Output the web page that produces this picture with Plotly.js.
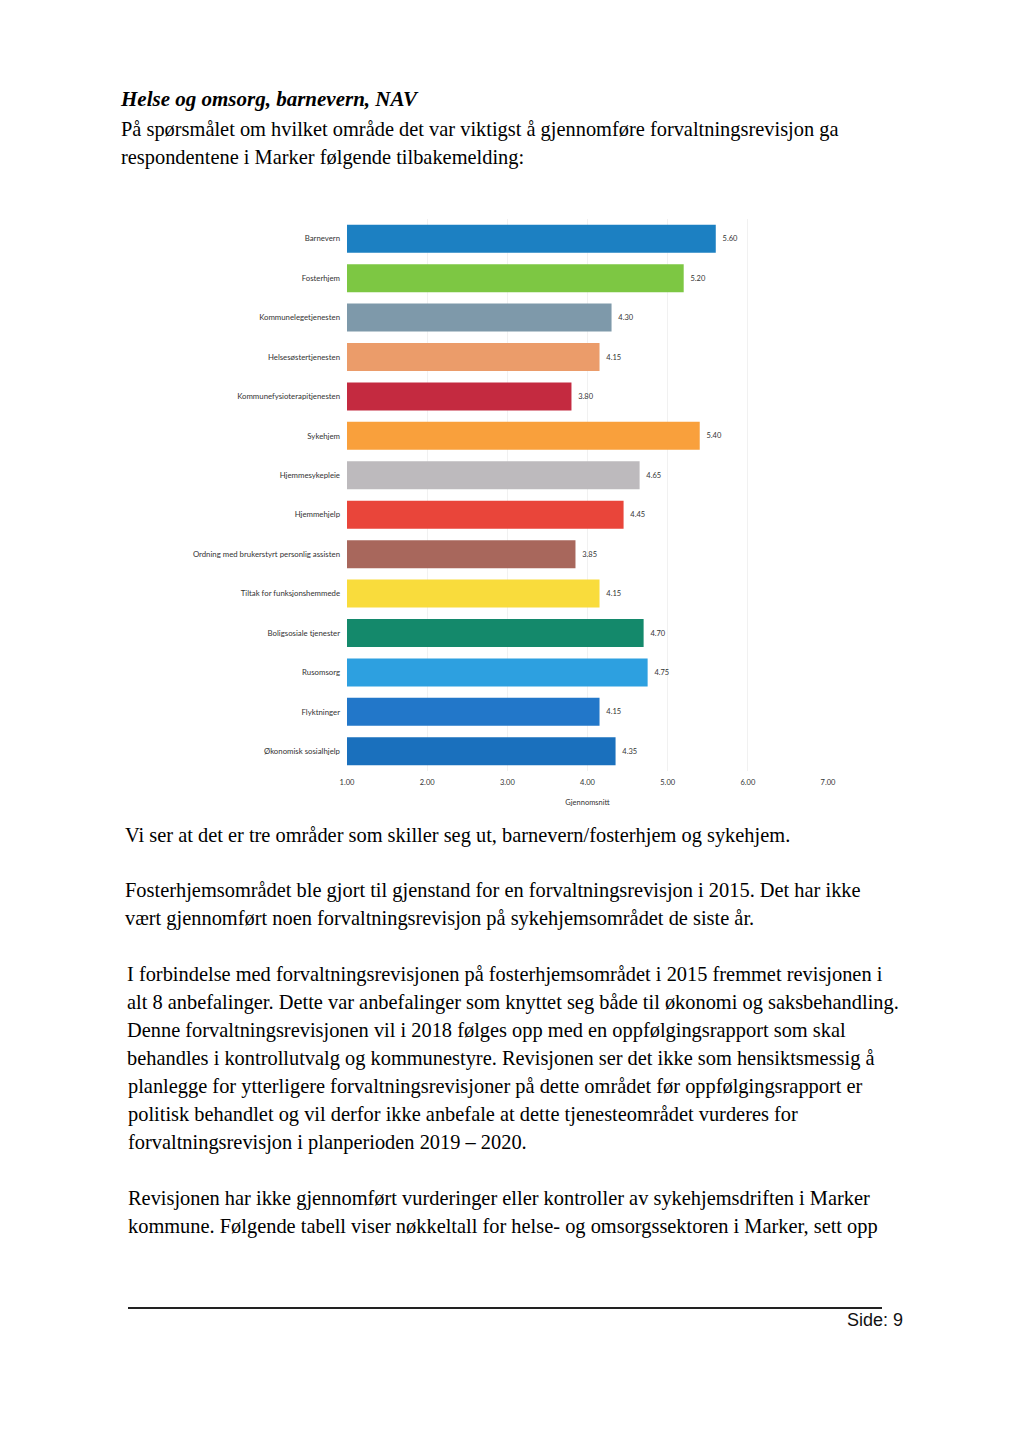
<!DOCTYPE html>
<html>
<head>
<meta charset="utf-8">
<script src="https://cdn.plot.ly/plotly-3.0.1.min.js"></script>
<style>
  html, body { margin: 0; padding: 0; background: #ffffff; }
  #page { position: relative; width: 1024px; height: 1448px; overflow: hidden; background: #fff; }
  #chart { position: absolute; left: 0; top: 0; width: 1024px; height: 1448px; }
  .ln { position: absolute; white-space: nowrap; font-family: "Liberation Serif", "Times New Roman", serif;
        font-size: 20.4px; line-height: 28px; color: #000; }
  .title { font-weight: bold; font-style: italic; font-size: 21px; }
  #rule { position: absolute; left: 128px; top: 1307px; width: 754px; height: 1.5px; background: #222; }
  #side { position: absolute; left: 830px; top: 1309px; width: 73px; text-align: right; white-space: nowrap;
          font-family: "Liberation Sans", Arial, sans-serif; font-size: 18px; line-height: 22px; color: #111; }
</style>
</head>
<body>
<div id="page">
  <div id="chart"></div>
  <div id="text"></div>
  <div id="rule"></div>
  <div id="side">Side: 9</div>
</div>
<script>
// ---- chart data ----
const categories = [
  "Barnevern",
  "Fosterhjem",
  "Kommunelegetjenesten",
  "Helsesøstertjenesten",
  "Kommunefysioterapitjenesten",
  "Sykehjem",
  "Hjemmesykepleie",
  "Hjemmehjelp",
  "Ordning med brukerstyrt personlig assisten",
  "Tiltak for funksjonshemmede",
  "Boligsosiale tjenester",
  "Rusomsorg",
  "Flyktninger",
  "Økonomisk sosialhjelp"
];
const averages = [5.60, 5.20, 4.30, 4.15, 3.80, 5.40, 4.65, 4.45, 3.85, 4.15, 4.70, 4.75, 4.15, 4.35];
const barColors = [
  "#1c80c2", "#7dc743", "#7e99aa", "#eb9c6a", "#c42a40", "#f9a03c", "#bdbabd",
  "#e9453a", "#a8675c", "#f9dc3c", "#14896b", "#2da0e0", "#2277c9", "#1a70bd"
];
const axisStart = 1;
const xTickVals = [1, 2, 3, 4, 5, 6, 7];
const xTickText = ["1.00", "2.00", "3.00", "4.00", "5.00", "6.00", "7.00"];
const xAxisTitle = "Gjennomsnitt";

// ---- page text ----
const textLines = [
  {t: "Helse og omsorg, barnevern, NAV", x: 121, y: 85, cls: "title"},
  {t: "På spørsmålet om hvilket område det var viktigst å gjennomføre forvaltningsrevisjon ga", x: 121, y: 115},
  {t: "respondentene i Marker følgende tilbakemelding:", x: 121, y: 143},
  {t: "Vi ser at det er tre områder som skiller seg ut, barnevern/fosterhjem og sykehjem.", x: 125, y: 821},
  {t: "Fosterhjemsområdet ble gjort til gjenstand for en forvaltningsrevisjon i 2015. Det har ikke", x: 125, y: 876},
  {t: "vært gjennomført noen forvaltningsrevisjon på sykehjemsområdet de siste år.", x: 125, y: 904},
  {t: "I forbindelse med forvaltningsrevisjonen på fosterhjemsområdet i 2015 fremmet revisjonen i", x: 127, y: 960},
  {t: "alt 8 anbefalinger. Dette var anbefalinger som knyttet seg både til økonomi og saksbehandling.", x: 127, y: 988},
  {t: "Denne forvaltningsrevisjonen vil i 2018 følges opp med en oppfølgingsrapport som skal", x: 127, y: 1016},
  {t: "behandles i kontrollutvalg og kommunestyre. Revisjonen ser det ikke som hensiktsmessig å", x: 127, y: 1044},
  {t: "planlegge for ytterligere forvaltningsrevisjoner på dette området før oppfølgingsrapport er", x: 128, y: 1072},
  {t: "politisk behandlet og vil derfor ikke anbefale at dette tjenesteområdet vurderes for", x: 128, y: 1100},
  {t: "forvaltningsrevisjon i planperioden 2019 – 2020.", x: 128, y: 1128},
  {t: "Revisjonen har ikke gjennomført vurderinger eller kontroller av sykehjemsdriften i Marker", x: 128, y: 1184},
  {t: "kommune. Følgende tabell viser nøkkeltall for helse- og omsorgssektoren i Marker, sett opp", x: 128, y: 1212}
];
const textBox = document.getElementById("text");
textLines.forEach(function (l) {
  const d = document.createElement("div");
  d.className = "ln" + (l.cls ? " " + l.cls : "");
  d.style.left = l.x + "px";
  d.style.top = l.y + "px";
  d.textContent = l.t;
  textBox.appendChild(d);
});

// ---- chart ----
const trace = {
  type: "bar",
  orientation: "h",
  y: categories,
  x: averages.map(v => v - axisStart),
  base: axisStart,
  marker: { color: barColors, line: { width: 0 } },
  texttemplate: averages.map(v => "\u2002" + v.toFixed(2)),
  textposition: "outside",
  textfont: { family: "Lato, 'Open Sans', sans-serif", size: 7.5, color: "#333" },
  cliponaxis: false,
  hoverinfo: "skip"
};

const layout = {
  width: 1024,
  height: 1448,
  paper_bgcolor: "rgba(0,0,0,0)",
  plot_bgcolor: "rgba(0,0,0,0)",
  margin: { l: 347, r: 196, t: 219, b: 677, pad: 0 },
  showlegend: false,
  bargap: 0.29,
  font: { family: "Lato, 'Open Sans', sans-serif", size: 7.8, color: "#333" },
  xaxis: {
    range: [1, 7],
    tickvals: xTickVals,
    ticktext: xTickText,
    showgrid: true,
    gridcolor: "#f1f1f1",
    gridwidth: 1,
    zeroline: false,
    showline: false,
    ticks: "",
    ticklabelstandoff: 5,
    tickfont: { size: 7.5, color: "#333" },
    title: { text: xAxisTitle, font: { size: 7.5, color: "#333" }, standoff: 14 },
    fixedrange: true
  },
  yaxis: {
    type: "category",
    autorange: "reversed",
    showgrid: false,
    zeroline: false,
    showline: false,
    ticks: "",
    ticklabelstandoff: 6,
    tickfont: { size: 7.8, color: "#333" },
    fixedrange: true
  }
};
Plotly.newPlot("chart", [trace], layout, { displayModeBar: false, staticPlot: true });
</script>
</body>
</html>
